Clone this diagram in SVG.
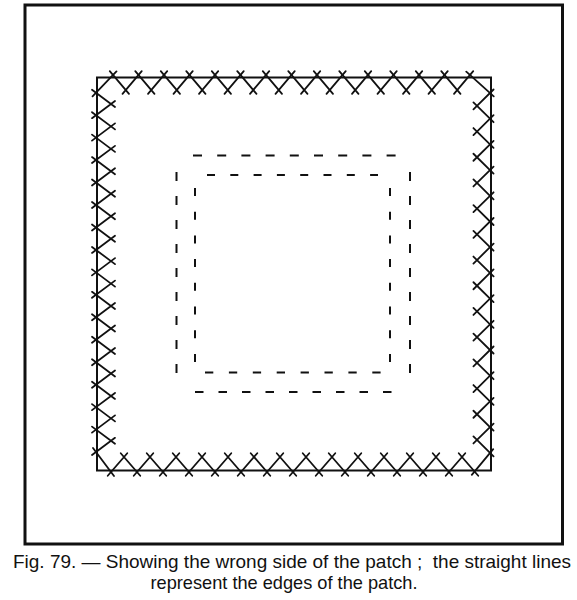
<svg xmlns="http://www.w3.org/2000/svg" width="577" height="600" viewBox="0 0 577 600">
<style>
.st{fill:none;stroke:#111;stroke-width:1.8;stroke-linecap:round}
.edge{fill:none;stroke:#111;stroke-width:2}
.dash{fill:none;stroke:#111;stroke-width:2}
.cap{font-family:"Liberation Sans",Arial,sans-serif;font-size:18.5px;fill:#111}
</style>
<defs>
<path id="tu" d="M109.76 71.19L128.99 93.81M122.51 93.81L141.74 71.19"/>
<path id="ru" d="M493.56 89.49L473.44 109.36M473.44 102.34L493.56 122.21"/>
<path id="bu" d="M107.73 475.78L127.27 453.22M120.73 453.22L140.27 475.78"/>
<path id="lu" d="M92 89.7L115 106.93M115 100.93L92 118.16"/>
</defs>
<rect width="577" height="600" fill="#fff"/>
<g id="frame"><rect x="25" y="5" width="537.5" height="539" fill="none" stroke="#111" stroke-width="3"/></g>
<g id="patch-edges"><rect class="edge" x="97" y="77.5" width="394" height="393"/></g>
<g id="stitches" class="st">
<g id="top-row">
<use href="#tu" x="0"/><use href="#tu" x="25.5"/><use href="#tu" x="51"/><use href="#tu" x="76.5"/><use href="#tu" x="102"/><use href="#tu" x="127.5"/><use href="#tu" x="153"/><use href="#tu" x="178.5"/><use href="#tu" x="204"/><use href="#tu" x="229.5"/><use href="#tu" x="255"/><use href="#tu" x="280.5"/><use href="#tu" x="306"/><use href="#tu" x="331.5"/>
</g>
<g id="right-col">
<use href="#ru" y="0"/><use href="#ru" y="25.7"/><use href="#ru" y="51.4"/><use href="#ru" y="77.1"/><use href="#ru" y="102.8"/><use href="#ru" y="128.5"/><use href="#ru" y="154.2"/><use href="#ru" y="179.9"/><use href="#ru" y="205.6"/><use href="#ru" y="231.3"/><use href="#ru" y="257"/><use href="#ru" y="282.7"/><use href="#ru" y="308.4"/><use href="#ru" y="334.1"/>
</g>
<g id="bottom-row">
<use href="#bu" x="0"/><use href="#bu" x="26"/><use href="#bu" x="52"/><use href="#bu" x="78"/><use href="#bu" x="104"/><use href="#bu" x="130"/><use href="#bu" x="156"/><use href="#bu" x="182"/><use href="#bu" x="208"/><use href="#bu" x="234"/><use href="#bu" x="260"/><use href="#bu" x="286"/><use href="#bu" x="312"/><use href="#bu" x="338"/>
</g>
<g id="left-col">
<use href="#lu" y="0"/><use href="#lu" y="22.46"/><use href="#lu" y="44.92"/><use href="#lu" y="67.38"/><use href="#lu" y="89.84"/><use href="#lu" y="112.3"/><use href="#lu" y="134.76"/><use href="#lu" y="157.22"/><use href="#lu" y="179.68"/><use href="#lu" y="202.14"/><use href="#lu" y="224.6"/><use href="#lu" y="247.06"/><use href="#lu" y="269.52"/><use href="#lu" y="291.98"/><use href="#lu" y="314.44"/><use href="#lu" y="336.9"/>
</g>
<path id="corners" d="M92.54 96.31L116.46 71.39M466.28 71.65L493.72 96.35M493.2 449.16L471.8 474.84M114 476L93 448.06"/>
</g>
<g id="tacking" class="dash">
<line x1="193" y1="155.5" x2="395.6" y2="155.5" stroke-dasharray="9 15.2"/>
<line x1="195" y1="392" x2="391.5" y2="392" stroke-dasharray="8.5 15"/>
<line x1="176.5" y1="172" x2="176.5" y2="373" stroke-dasharray="9 15"/>
<line x1="410" y1="172" x2="410" y2="373" stroke-dasharray="9 15"/>
<line x1="207" y1="175" x2="378" y2="175" stroke-dasharray="8 15.3"/>
<line x1="205" y1="372.5" x2="380.6" y2="372.5" stroke-dasharray="8.3 15.6"/>
<line x1="195" y1="188" x2="195" y2="362" stroke-dasharray="8 15.7"/>
<line x1="390" y1="188" x2="390" y2="362" stroke-dasharray="8 15.7"/>
</g>
<g id="caption" class="cap">
<text x="292" y="568" text-anchor="middle" textLength="558" lengthAdjust="spacingAndGlyphs" xml:space="preserve">Fig. 79. — Showing the wrong side of the patch ;  the straight lines</text>
<text x="284" y="589" text-anchor="middle" textLength="267" lengthAdjust="spacingAndGlyphs">represent the edges of the patch.</text>
</g>
</svg>
